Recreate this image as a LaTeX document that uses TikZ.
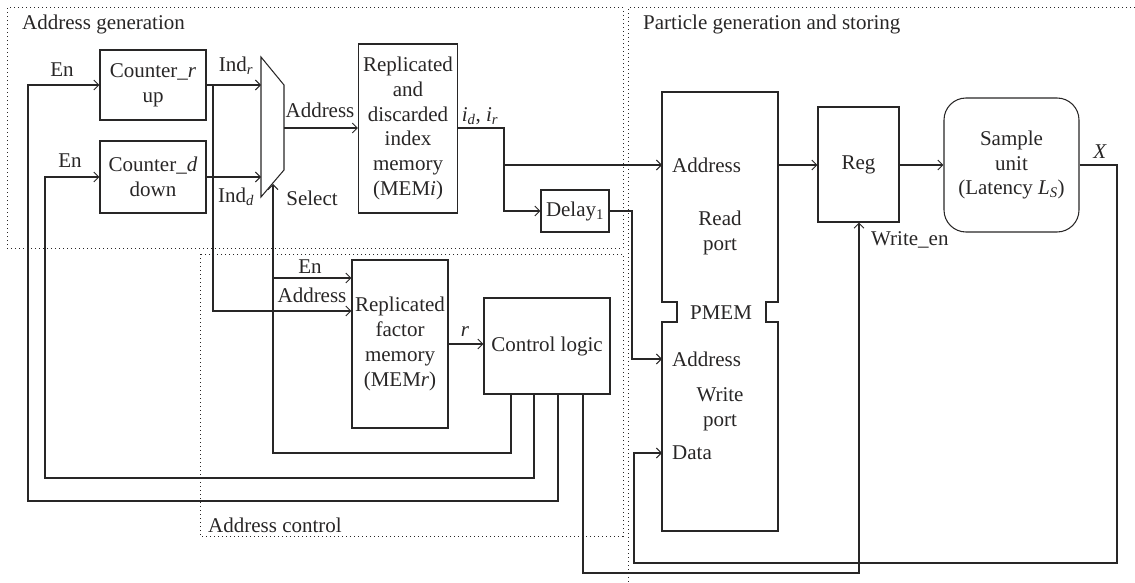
\documentclass[tikz,border=0pt]{standalone}
\usepackage{fontspec}
\setmainfont{Liberation Serif}
\usetikzlibrary{arrows.meta,calc}
\definecolor{ink}{RGB}{40,38,38}
\begin{document}
\begin{tikzpicture}[x=1pt,y=-1pt,
  every node/.style={font=\fontsize{21}{24.8}\selectfont, text=ink},
  wire/.style={draw=ink, line width=1.05pt},
  arr/.style={wire, -{Straight Barb[length=5pt,width=10pt,line width=1pt]}},
  blk/.style={draw=ink, line width=1.05pt, rectangle, align=center, inner sep=0pt},
  lbl/.style={inner sep=0pt, align=center},
  region/.style={draw=ink, line width=1pt, dash pattern=on 1pt off 3pt}
]
\useasboundingbox (0,0) rectangle (1135,583);

% ---------- dotted regions ----------
\draw[region] (7,8) rectangle (623,248);
\draw[region] (200,254) rectangle (623,536);
\draw[region] (1135,8) -- (628,8) -- (628,583);
\node[lbl, anchor=west] (tgen) at (22,24) {Address generation};
\node[lbl, anchor=west] (tpart) at (643,24) {Particle generation and storing};
\node[lbl, anchor=west] (tctl) at (208,525) {Address control};

% ---------- blocks ----------
\node[blk, minimum width=106pt, minimum height=70pt] (cr) at (153,85) {Counter\_\textit{r}\\up};
\node[blk, minimum width=106pt, minimum height=72pt] (cd) at (153,177) {Counter\_\textit{d}\\down};
\node[blk, minimum width=99pt, minimum height=169pt] (memi) at (408,128.5)
  {Replicated\\and\\discarded\\index\\memory\\(MEM\textit{i})};
\node[blk, minimum width=68pt, minimum height=42pt] (delay) at (575,211) {Delay\textsubscript{1}};
\node[blk, minimum width=96pt, minimum height=168pt] (memr) at (400,344)
  {Replicated\\factor\\memory\\(MEM\textit{r})};
\node[blk, minimum width=126pt, minimum height=96pt] (ctrl) at (547,346) {Control logic};
\node[blk, minimum width=81pt, minimum height=115pt] (reg) at (858.5,164.5) {Reg};
\node[blk, minimum width=135pt, minimum height=134pt, rounded corners=22pt] (samp) at (1011.5,165)
  {Sample\\unit\\(Latency \textit{L}\textsubscript{\textit{S}})};

% multiplexer
\draw[wire] (261,57) -- (284,85) -- (284,170) -- (261,197) -- cycle;
\coordinate (muxr) at (261,85);
\coordinate (muxd) at (261,177);
\coordinate (muxo) at (284,128);
\coordinate (muxs) at (273,184);

% particle memory with its two ports
\draw[wire] (662,92) -- (778,92) -- (778,302) -- (766,302) -- (766,322) -- (778,322)
  -- (778,531) -- (662,531) -- (662,322) -- (677,322) -- (677,302) -- (662,302) -- cycle;
\coordinate (prd) at (662,165);
\coordinate (pwa) at (662,359);
\coordinate (pdat) at (662,453);
\coordinate (pout) at (778,165);
\node[lbl, anchor=west] (lra) at (672,165) {Address};
\node[lbl] (lrp) at (720,233) {Read\\port};
\node[lbl] (lpm) at (721,313) {PMEM};
\node[lbl, anchor=west] (lwa) at (672,359) {Address};
\node[lbl] (lwp) at (720,409) {Write\\port};
\node[lbl, anchor=west] (ldat) at (672,453) {Data};

% control logic outputs
\coordinate (c1) at (511,394);
\coordinate (c2) at (534,394);
\coordinate (c3) at (558,394);
\coordinate (c4) at (583,394);

% ---------- connectors ----------
\coordinate (enr) at (28,501);
\coordinate (end) at (45,478);
\coordinate (sel) at (273,453);
\coordinate (brr) at (213,85);
\coordinate (brs) at (273,278);
\coordinate (mo) at (504,128);
\coordinate (mo2) at (504,165);
\coordinate (dly) at (632,211);
\coordinate (xo) at (1117,165);
\coordinate (xb) at (634,563);
\coordinate (we) at (859,573);

\draw[arr] (c3) |- (enr) |- (cr.west);
\draw[arr] (c2) |- (end) |- (cd.west);
\draw[arr] (c1) |- (sel) -- (muxs);
\draw[arr] (brs) -- (brs -| memr.west);
\draw[arr] (cr.east) -- (muxr);
\draw[arr] (cd.east) -- (muxd);
\draw[arr] (brr) |- ($(memr.west)+(0,-33)$);
\draw[arr] (muxo) -- (muxo -| memi.west);
\draw[wire] (memi.east |- mo) -- (mo) -- (mo2);
\draw[arr] (mo) |- (prd);
\draw[arr] (mo2) |- (delay.west);
\draw[arr] (delay.east) -- (dly) |- (pwa);
\draw[arr] (pout) -- (pout -| reg.west);
\draw[arr] (reg.east |- samp.west) -- (samp.west);
\draw[arr] (samp.east) -- (xo) |- (xb) |- (pdat);
\draw[arr] (c4) |- (we) -- (we |- reg.south);
\draw[arr] (memr.east) -- (memr.east -| ctrl.west);

% ---------- signal labels ----------
\node[lbl] (len1) at (62,70) {En};
\node[lbl] (len2) at (70,161) {En};
\node[lbl] (lindr) at (236,66) {Ind\textsubscript{\textit{r}}};
\node[lbl] (lindd) at (236,197) {Ind\textsubscript{\textit{d}}};
\node[lbl] (laddr) at (320,110) {Address};
\node[lbl] (lsel) at (312,198) {Select};
\node[lbl] (lidr) at (480,116) {\textit{i}\textsubscript{\textit{d}}, \textit{i}\textsubscript{\textit{r}}};
\node[lbl] (len3) at (310,267) {En};
\node[lbl] (laddr2) at (312,295) {Address};
\node[lbl] (lr) at (465,332) {\textit{r}};
\node[lbl, anchor=west] (lwe) at (871,240) {Write\_en};
\node[lbl] (lx) at (1100,152) {\textit{X}};
\end{tikzpicture}
\end{document}
